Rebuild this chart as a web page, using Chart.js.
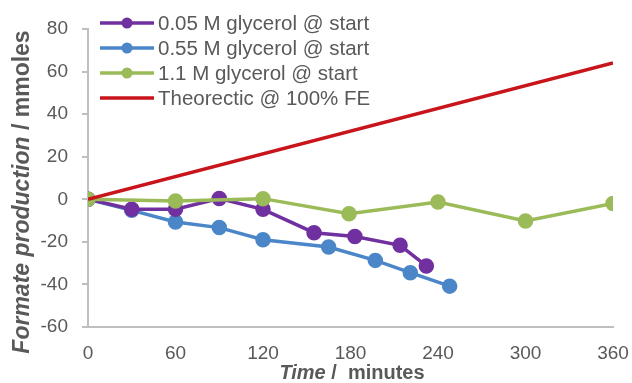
<!DOCTYPE html>
<html><head><meta charset="utf-8">
<script src="https://cdn.jsdelivr.net/npm/chart.js@4"></script>
<style>html,body{margin:0;padding:0;background:#fff}#w{width:632px;height:383px}</style>
</head><body><div id="w"><canvas id="c" width="632" height="383"></canvas></div>
<script>
const seriesNames = ["0.05 M glycerol @ start","0.55 M glycerol @ start","1.1 M glycerol @ start","Theorectic @ 100% FE"];
const t005 = [0,30,60,90,120,155,183,214,232];
const v005 = [0,-4.7,-4.7,0.4,-4.7,-15.7,-17.5,-21.6,-31.3];
const t055 = [0,30,60,90,120,165,197,221,248];
const v055 = [0,-5.2,-10.7,-13.3,-19,-22.4,-28.7,-34.5,-40.8];
const t11 = [0,60,120,179,240,300,360];
const v11 = [0,-0.8,0.3,-6.8,-1.3,-10.2,-2];
const tTheo = [0,360];
const vTheo = [0,64];
const xTicks = [0,60,120,180,240,300,360];
const yTicks = [-60,-40,-20,0,20,40,60,80];
const colors = ["#7030A0","#4A86C8","#9BBB59","#C8141B"];
const pts = (t,v)=>t.map((x,i)=>({x:x,y:v[i]}));
const FONT = "'Liberation Sans', Arial, sans-serif";

const overlay = {
  id:'overlay',
  afterDraw(chart){
    const ctx = chart.ctx;
    ctx.save();
    // legend
    const rows=[23,48,73,98];
    ctx.font = "20.5px " + FONT;
    ctx.textBaseline='middle';
    seriesNames.forEach((n,i)=>{
      const y=rows[i];
      ctx.strokeStyle=colors[i]; ctx.lineWidth=3.5;
      ctx.beginPath(); ctx.moveTo(100,y); ctx.lineTo(154,y); ctx.stroke();
      if(i<3){ctx.fillStyle=colors[i]; ctx.beginPath(); ctx.arc(127,y,5.5,0,Math.PI*2); ctx.fill();}
      ctx.fillStyle="#595959"; ctx.textAlign='left';
      ctx.fillText(n,158,y+1);
    });
    // x title
    ctx.fillStyle="#595959";
    ctx.textBaseline='middle';
    const a="Time", b=" /  minutes";
    ctx.font="italic bold 20px "+FONT; const wa=ctx.measureText(a).width;
    ctx.font="bold 20px "+FONT; const wb=ctx.measureText(b).width;
    let x0=352-(wa+wb)/2;
    ctx.font="italic bold 20px "+FONT; ctx.textAlign='left'; ctx.fillText(a,x0,373);
    ctx.font="bold 20px "+FONT; ctx.fillText(b,x0+wa,373);
    // y title
    ctx.translate(23,192); ctx.rotate(-Math.PI/2);
    const c="Formate production", d=" / mmoles";
    ctx.font="italic bold 23px "+FONT; const wc=ctx.measureText(c).width;
    ctx.font="bold 23px "+FONT; const wd=ctx.measureText(d).width;
    x0=-(wc+wd)/2;
    ctx.font="italic bold 23px "+FONT; ctx.fillText(c,x0,0);
    ctx.font="bold 23px "+FONT; ctx.fillText(d,x0+wc,0);
    ctx.restore();
  }
};

new Chart(document.getElementById('c'),{
  type:'line',
  data:{datasets:[
    {label:seriesNames[0],data:pts(t005,v005),borderColor:colors[0],backgroundColor:colors[0],borderWidth:3.5,pointRadius:6,pointHoverRadius:6,order:2},
    {label:seriesNames[1],data:pts(t055,v055),borderColor:colors[1],backgroundColor:colors[1],borderWidth:3.5,pointRadius:6,pointHoverRadius:6,order:3},
    {label:seriesNames[2],data:pts(t11,v11),borderColor:colors[2],backgroundColor:colors[2],borderWidth:3.5,pointRadius:6,pointHoverRadius:6,order:1},
    {label:seriesNames[3],data:pts(tTheo,vTheo),borderColor:colors[3],backgroundColor:colors[3],borderWidth:3.5,pointRadius:0,order:0}
  ]},
  options:{
    responsive:false,animation:false,
    layout:{padding:{top:29,right:19,left:0,bottom:0}},
    plugins:{legend:{display:false},tooltip:{enabled:false}},
    scales:{
      x:{type:'linear',min:0,max:360,
        afterBuildTicks:s=>{s.ticks=xTicks.map(v=>({value:v}));},
        afterFit:s=>{s.height=56;s.paddingLeft=0;s.paddingRight=0;},
        grid:{drawOnChartArea:false,drawTicks:false,color:'#bfbfbf'},
        border:{color:'#bfbfbf',width:2},
        ticks:{color:'#595959',font:{family:FONT,size:19},padding:15,maxRotation:0}},
      y:{min:-60,max:80,
        afterBuildTicks:s=>{s.ticks=yTicks.map(v=>({value:v}));},
        afterFit:s=>{s.width=88;s.paddingTop=0;s.paddingBottom=0;},
        grid:{drawOnChartArea:false,drawTicks:true,tickLength:6,color:'#bfbfbf',lineWidth:2},
        border:{color:'#bfbfbf',width:2},
        ticks:{color:'#595959',font:{family:FONT,size:19},padding:14}}
    }
  },
  plugins:[overlay]
});
</script></body></html>
